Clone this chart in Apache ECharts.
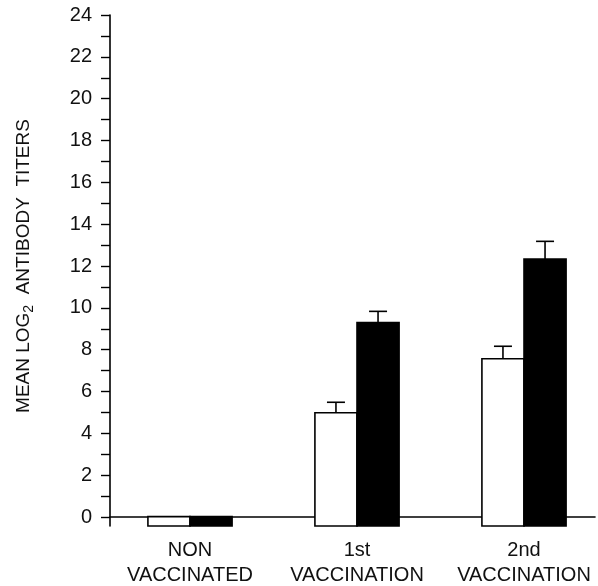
<!DOCTYPE html>
<html>
<head>
<meta charset="utf-8">
<script src="https://cdn.jsdelivr.net/npm/echarts@6/dist/echarts.min.js"></script>
<style>
  html, body { margin: 0; padding: 0; background: #fff; }
  #chart { width: 598px; height: 586px; }
</style>
</head>
<body>
<div id="chart"></div>
<script>
// groups on the x axis
var groups = ['NON\nVACCINATED', '1st\nVACCINATION', '2nd\nVACCINATION'];
// open bars and filled bars (mean log2 titers) with upper error
var openMeans = [0, 4.97, 7.55];
var openErr = [0, 0.5, 0.6];
var filledMeans = [0, 9.29, 12.32];
var filledErr = [0, 0.53, 0.85];

var yMin = -0.45;   // x axis sits a little below zero
var yMax = 24;

var chart = echarts.init(document.getElementById('chart'));
var font = 'Liberation Sans, Arial, sans-serif';

function toData(means, errs) {
    return means.map(function (v, i) { return [i, v, errs[i]]; });
}

function makeRender(side, filled) {
    return function (params, api) {
        var cat = api.value(0), v = api.value(1), e = api.value(2);
        var band = api.size([1, 0])[0];
        var w = band * 0.252;
        var c = api.coord([cat, v]);
        var base = api.coord([cat, yMin]);
        var x0 = side < 0 ? c[0] - w : c[0];
        var cx = x0 + w / 2;
        var kids = [{
            type: 'rect',
            shape: { x: x0, y: c[1], width: w, height: base[1] - c[1] },
            style: { fill: filled ? '#000' : '#fff', stroke: '#000', lineWidth: 1.6 }
        }];
        if (e > 0) {
            var t = api.coord([cat, v + e]);
            kids.push({
                type: 'line',
                shape: { x1: cx, y1: c[1], x2: cx, y2: t[1] },
                style: { stroke: '#000', lineWidth: 1.6 }
            });
            kids.push({
                type: 'line',
                shape: { x1: cx - 9, y1: t[1], x2: cx + 9, y2: t[1] },
                style: { stroke: '#000', lineWidth: 1.6 }
            });
        }
        return { type: 'group', children: kids };
    };
}

var option = {
    animation: false,
    backgroundColor: '#fff',
    grid: [
        // ticks and labels (0..24)
        { left: 110, right: 3, top: 15, bottom: 69, outerBoundsMode: 'none' },
        // axis lines
        { left: 110, right: 3, top: 15, bottom: 60, outerBoundsMode: 'none' },
        // data: first and last group centres sit on the grid edges
        { left: 190, right: 74, top: 15, bottom: 60, outerBoundsMode: 'none' }
    ],
    xAxis: [
        { gridIndex: 0, type: 'value', show: false },
        {
            gridIndex: 1, type: 'value', min: 0, max: 1,
            axisLine: { show: true, lineStyle: { color: '#000', width: 1.6 } },
            axisTick: { show: false }, axisLabel: { show: false }, splitLine: { show: false }
        },
        {
            gridIndex: 2, type: 'category', data: groups, boundaryGap: false,
            axisLine: { show: false }, axisTick: { show: false },
            axisLabel: {
                color: '#111', fontFamily: font, fontSize: 20,
                lineHeight: 25, margin: 12, interval: 0
            }
        }
    ],
    yAxis: [
        {
            gridIndex: 0, type: 'value', min: 0, max: 24, interval: 1,
            name: 'MEAN LOG{sub|2}  ANTIBODY  TITERS',
            nameLocation: 'middle', nameGap: 74, nameRotate: 90,
            nameTextStyle: {
                color: '#111', fontFamily: font, fontSize: 19,
                rich: { sub: { fontSize: 14, fontFamily: font, color: '#111', padding: [11, 0, 0, 0] } }
            },
            axisLine: { show: false },
            axisTick: { show: true, inside: false, length: 9, lineStyle: { color: '#000', width: 1.4 } },
            axisLabel: {
                color: '#111', fontFamily: font, fontSize: 20, margin: 18,
                formatter: function (v) { return v % 2 === 0 ? String(v) : ''; }
            },
            splitLine: { show: false }
        },
        {
            gridIndex: 1, type: 'value', min: yMin, max: yMax,
            axisLine: { show: true, lineStyle: { color: '#000', width: 1.6 } },
            axisTick: { show: false }, axisLabel: { show: false }, splitLine: { show: false }
        },
        { gridIndex: 2, type: 'value', min: yMin, max: yMax, show: false }
    ],
    series: [
        {
            type: 'custom', xAxisIndex: 2, yAxisIndex: 2, clip: false,
            renderItem: makeRender(-1, false),
            data: toData(openMeans, openErr)
        },
        {
            type: 'custom', xAxisIndex: 2, yAxisIndex: 2, clip: false,
            renderItem: makeRender(1, true),
            data: toData(filledMeans, filledErr)
        }
    ]
};

chart.setOption(option);
</script>
</body>
</html>
